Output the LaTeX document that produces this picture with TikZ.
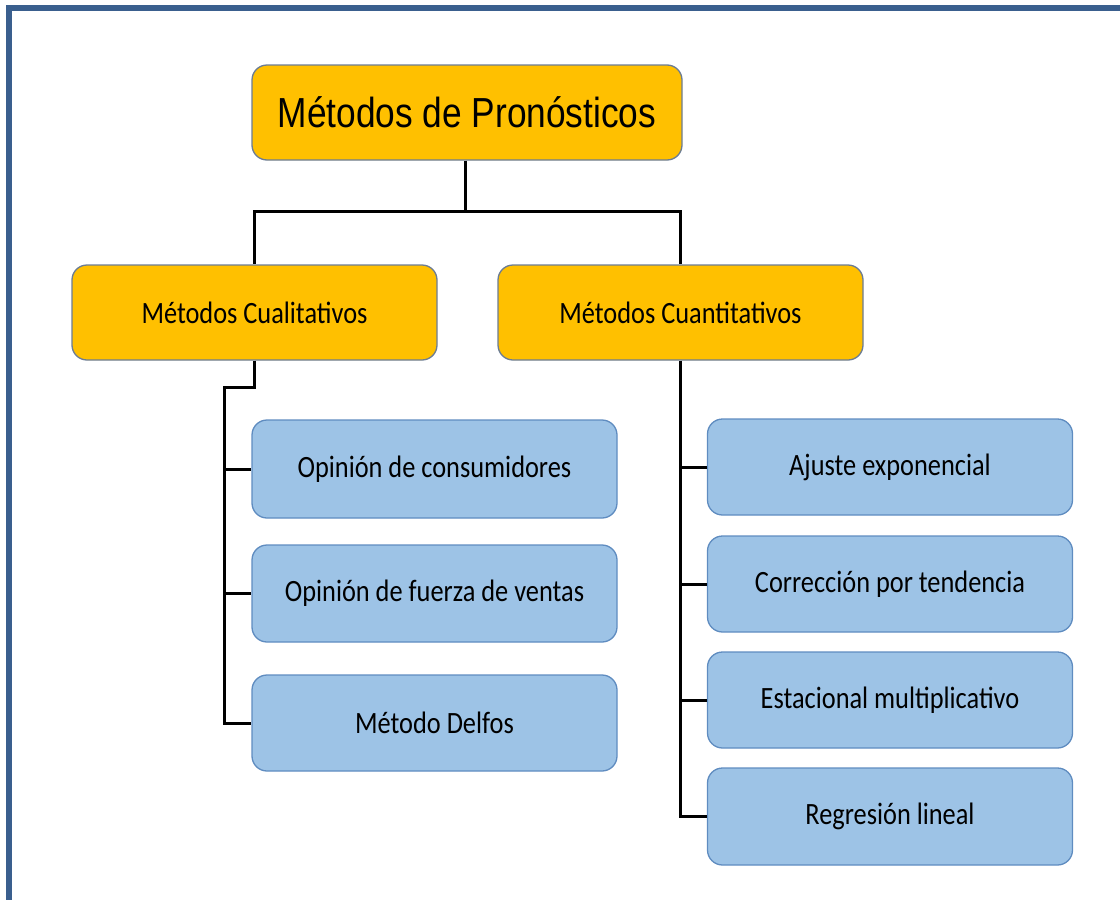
\documentclass[tikz,border=0pt]{standalone}
\usepackage{fontspec}
\setmainfont{Carlito}[FakeStretch=0.85]
\newfontfamily\titlefont{Liberation Sans}[FakeStretch=0.84]
\definecolor{framec}{HTML}{3A5F8E}
\definecolor{orangef}{HTML}{FFC000}
\definecolor{orangeb}{HTML}{6B7C94}
\definecolor{bluef}{HTML}{9DC3E6}
\definecolor{blueb}{HTML}{5F8CC0}
\tikzset{
  obox/.style={draw=orangeb, fill=orangef, line width=1.3pt, rounded corners=15pt, minimum width=365pt, minimum height=95pt, inner sep=0pt, font=\fontsize{31}{36}\selectfont},
  bbox/.style={draw=blueb, fill=bluef, line width=1.3pt, rounded corners=15pt, minimum width=365pt, minimum height=96pt, inner sep=0pt, font=\fontsize{31}{36}\selectfont},
  conn/.style={draw=black, line width=3pt},
}
\begin{document}
\begin{tikzpicture}[x=1pt,y=-1pt]
\useasboundingbox (0,0) rectangle (1120,900);
\draw[framec, line width=6pt] (9,900) -- (9,8) -- (1120,8);

\node[obox, minimum width=430pt, font=\titlefont\fontsize{42}{48}\selectfont] (title) at (467,112.5) {Métodos de Pronósticos};
\node[obox] (cual) at (254.5,312.5) {Métodos Cualitativos};
\node[obox] (cuan) at (680.5,312.5) {Métodos Cuantitativos};

\node[bbox, minimum height=98pt] (c1) at (434.5,469) {Opinión de consumidores};
\node[bbox, minimum height=97pt] (c2) at (434.5,593.5) {Opinión de fuerza de ventas};
\node[bbox] (c3) at (434.5,723) {Método Delfos};

\node[bbox] (q1) at (890,467) {Ajuste exponencial};
\node[bbox] (q2) at (890,584) {Corrección por tendencia};
\node[bbox] (q3) at (890,700) {Estacional multiplicativo};
\node[bbox, minimum height=97pt] (q4) at (890,816.5) {Regresión lineal};

\coordinate (j1) at (465,211);
\coordinate (lb) at (224,387);

\draw[conn] (title.south -| j1) -- (j1);
\draw[conn] (j1) -| (cual.north);
\draw[conn] (j1) -| (cuan.north);

\draw[conn] (cual.south) |- (lb) |- (c3.west);
\draw[conn] (c1.west -| lb) -- (c1.west);
\draw[conn] (c2.west -| lb) -- (c2.west);

\draw[conn] (cuan.south) |- (q4.west);
\draw[conn] (q1.west -| cuan.south) -- (q1.west);
\draw[conn] (q2.west -| cuan.south) -- (q2.west);
\draw[conn] (q3.west -| cuan.south) -- (q3.west);
\end{tikzpicture}
\end{document}
